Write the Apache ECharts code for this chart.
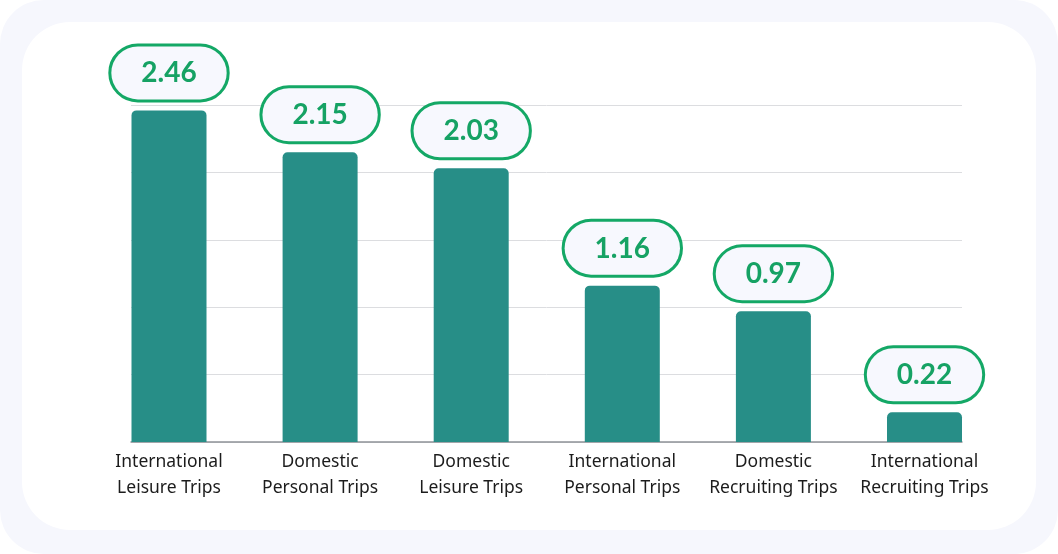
<!DOCTYPE html>
<head>
    <title>ECharts</title>
    <script src="https://cdn.jsdelivr.net/npm/echarts@6/dist/echarts.min.js"></script>
    <style>
        html, body { margin:0; padding:0; background:#fff; }
        #outer { position:absolute; left:0; top:0; width:1058px; height:554px; background:#f6f7fd; border-radius:44px; }
        #inner { position:absolute; left:22px; top:22px; width:1014px; height:508px; background:#fff; border-radius:48px; }
        #main { position:absolute; left:0; top:0; width:1058px; height:554px; }
    </style>
</head>
<body>
    <div id="outer"><div id="inner"></div></div>
    <div id="main"></div>
    <script type="text/javascript">
        var categories = ['International\nLeisure Trips', 'Domestic\nPersonal Trips', 'Domestic\nLeisure Trips',
                          'International\nPersonal Trips', 'Domestic\nRecruiting Trips', 'International\nRecruiting Trips'];
        var values = [2.46, 2.15, 2.03, 1.16, 0.97, 0.22];
        var yTicks = [0, 0.5, 1, 1.5, 2, 2.5];

        var myChart = echarts.init(document.getElementById('main'));

        var option = {
            animation: false,
            grid: [
                {left: 169, right: 133.5, top: 105, bottom: 112},
                {left: 131, right: 96, top: 105, bottom: 112}
            ],
            xAxis: [
                {
                    type: 'category', gridIndex: 0, data: categories, boundaryGap: false,
                    axisLine: {show: false}, axisTick: {show: false},
                    axisLabel: {
                        margin: 7, fontSize: 17.5, lineHeight: 26, color: '#1c1c1c',
                        fontFamily: 'Noto Sans', interval: 0
                    }
                },
                {
                    type: 'category', gridIndex: 1, data: [''], boundaryGap: false,
                    axisLine: {show: true, lineStyle: {color: '#8f9398', width: 1.5}},
                    axisTick: {show: false}, axisLabel: {show: false}
                }
            ],
            yAxis: [
                {
                    type: 'value', gridIndex: 0, min: yTicks[0], max: yTicks[yTicks.length - 1], interval: 0.5,
                    show: false, splitLine: {show: false}
                },
                {
                    type: 'value', gridIndex: 1, min: yTicks[0], max: yTicks[yTicks.length - 1], interval: 0.5,
                    axisLine: {show: false}, axisTick: {show: false}, axisLabel: {show: false},
                    splitLine: {lineStyle: {color: '#dcdde0', width: 1}}
                }
            ],
            series: [
                {
                    type: 'bar', xAxisIndex: 0, yAxisIndex: 0,
                    data: values, barWidth: 75, clip: false,
                    itemStyle: {color: '#278e87', borderRadius: [5, 5, 0, 0]},
                    label: {
                        show: true, position: 'top', distance: 11,
                        formatter: function (p) { return p.value.toFixed(2); },
                        fontFamily: 'Lato', fontWeight: 'bold', fontSize: 28, lineHeight: 30,
                        color: '#16a264',
                        backgroundColor: '#f7f8fe',
                        borderColor: '#14a866', borderWidth: 3, borderRadius: 29,
                        padding: [12, 30, 11, 30]
                    }
                }
            ]
        };

        myChart.setOption(option);
    </script>
</body>
